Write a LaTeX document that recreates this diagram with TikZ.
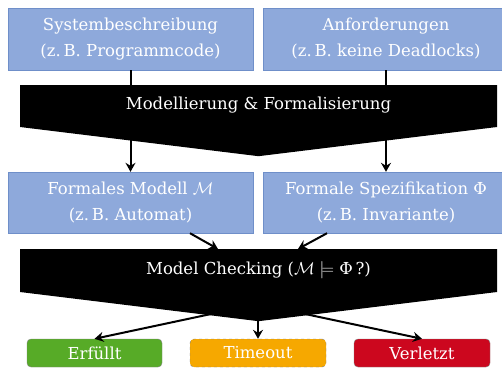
\documentclass[tikz,border=0pt]{standalone}
\usepackage{fontspec}
\setmainfont{DejaVu Serif}
\usetikzlibrary{arrows.meta}
\definecolor{boxblue}{HTML}{8EA9DB}
\definecolor{boxblueline}{HTML}{6F8FC9}
\definecolor{okgreen}{HTML}{57AB27}
\definecolor{toorange}{HTML}{F6A800}
\definecolor{badred}{HTML}{CC071E}
\definecolor{resline}{HTML}{7F7F7F}
\begin{document}
\begin{tikzpicture}[x=1pt,y=-1pt,
  infobox/.style={draw=boxblueline,fill=boxblue,text=white,align=center,inner sep=0pt,font=\fontsize{16.5}{26}\selectfont},
  resbox/.style={draw=resline,rounded corners=4pt,text=white,inner sep=0pt,font=\fontsize{16.5}{18}\selectfont},
  chev/.style={fill=black},
  chevtext/.style={text=white,font=\fontsize{16.5}{18}\selectfont},
  conn/.style={line width=2pt,-{Stealth[length=9pt,width=10pt,inset=3pt]}}]
\useasboundingbox (0,0) rectangle (502,370);
% boxes
\node[infobox,minimum width=245pt,minimum height=62pt] (sys) at (130.5,39) {Systembeschreibung\\(z.\,B. Programmcode)};
\node[infobox,minimum width=246pt,minimum height=62pt] (anf) at (386,39) {Anforderungen\\(z.\,B. keine Deadlocks)};
\node[infobox,minimum width=245pt,minimum height=61pt] (mod) at (130.5,202.5) {Formales Modell $\mathcal{M}$\\(z.\,B. Automat)};
\node[infobox,minimum width=246pt,minimum height=61pt] (spec) at (386,202.5) {Formale Spezifikation Φ\\(z.\,B. Invariante)};
% result boxes
\node[resbox,fill=okgreen,minimum width=135pt,minimum height=28pt] (ok) at (94.5,353) {Erfüllt};
\node[resbox,fill=toorange,dashed,minimum width=136pt,minimum height=28pt] (to) at (258,353) {Timeout};
\node[resbox,fill=badred,minimum width=136pt,minimum height=28pt] (bad) at (422,353) {Verletzt};
% connectors under chevrons
\draw[conn] (sys.south) -- (mod.north);
\draw[conn] (anf.south) -- (spec.north);
\coordinate (mc) at (258,304);
\draw[conn] (mc) -- (ok.north);
\draw[conn] (mc) -- (bad.north);
\draw[conn] (mc) -- (to.north);
\coordinate (mcl) at (218,249);
\coordinate (mcr) at (298,249);
\draw[conn] (mod.south -| 190,0) -- (mcl);
\draw[conn] (spec.south -| 327,0) -- (mcr);
% chevrons
\fill[chev] (20,85) -- (497,85) -- (497,127) -- (260,156) -- (257,156) -- (20,127) -- cycle;
\node[chevtext] (mf) at (258.5,105) {Modellierung \& Formalisierung};
\fill[chev] (20,249) -- (497,249) -- (497,292) -- (260,321) -- (257,321) -- (20,292) -- cycle;
\node[chevtext] (mck) at (258.5,270) {Model Checking ($\mathcal{M} \models$ Φ\,?)};
\end{tikzpicture}
\end{document}
